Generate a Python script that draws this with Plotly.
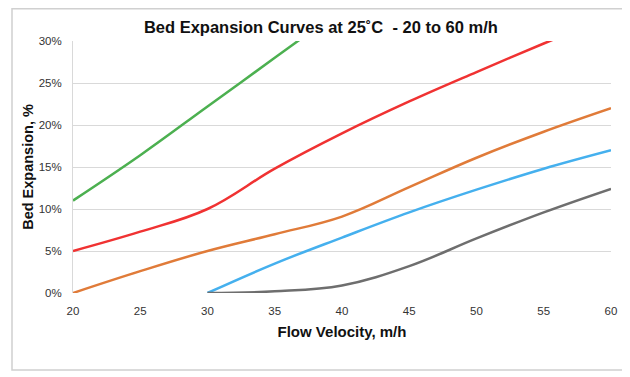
import plotly.graph_objects as go

x_vals = [20, 25, 30, 35, 40, 45, 50, 55, 60]
x_late = [30, 35, 40, 45, 50, 55, 60]

green = [11.0, 16.4, 22.2, 28.0, 33.8]
red = [5.0, 7.3, 10.0, 14.8, 19.0, 22.8, 26.3, 29.7, 33.0]
orange = [0.0, 2.6, 5.0, 7.0, 9.1, 12.6, 16.1, 19.2, 22.0]
blue = [0.0, 3.5, 6.6, 9.6, 12.3, 14.8, 17.0]
gray = [0.0, 0.2, 0.9, 3.2, 6.5, 9.6, 12.4]

y_ticks = [0, 5, 10, 15, 20, 25, 30]
y_tick_labels = ["0%", "5%", "10%", "15%", "20%", "25%", "30%"]
x_ticks = [20, 25, 30, 35, 40, 45, 50, 55, 60]

series = [
    (x_vals[:5], green, "#4CB050"),
    (x_vals, red, "#F03232"),
    (x_vals, orange, "#E07B39"),
    (x_late, blue, "#45B0EE"),
    (x_late, gray, "#6E6E6E"),
]

fig = go.Figure()
for xs, ys, col in series:
    fig.add_trace(go.Scatter(x=xs, y=ys, mode="lines",
                             line=dict(color=col, width=2.5, shape="spline", smoothing=1.1),
                             showlegend=False, cliponaxis=True))

W, H = 622, 369
fig.update_layout(
    width=W, height=H,
    margin=dict(l=65, r=19, t=33, b=84),
    paper_bgcolor="white", plot_bgcolor="white",
    font=dict(family="Liberation Sans, Arial, sans-serif", color="#404040"),
    title=dict(text="<b>Bed Expansion Curves at 25˚C  - 20 to 60 m/h</b>",
               x=0.503, xanchor="center", y=1 - 19 / H, yanchor="middle",
               font=dict(size=16.5, color="#111111")),
    xaxis=dict(range=[20, 60], tickvals=x_ticks, showgrid=False, zeroline=False,
               showline=False, ticks="outside", ticklen=7, tickcolor="rgba(0,0,0,0)",
               tickfont=dict(size=11.5, color="#333333"),
               title=dict(text="<b>Flow Velocity, m/h</b>", font=dict(size=15, color="#111111"), standoff=10)),
    yaxis=dict(range=[0, 30], tickvals=y_ticks, ticktext=y_tick_labels,
               showgrid=True, gridcolor="#D9D9D9", gridwidth=1, zeroline=False,
               showline=True, linecolor="#D9D9D9", linewidth=1,
               ticks="outside", ticklen=8, tickcolor="rgba(0,0,0,0)",
               tickfont=dict(size=11.5, color="#333333"),
               title=dict(text="<b>Bed Expansion, %</b>", font=dict(size=14.5, color="#111111"), standoff=1)),
)

pw = W - 65 - 19
ph = H - 33 - 84
fig.add_shape(type="rect", xref="paper", yref="paper",
              x0=(4 - 65) / pw, x1=(617 - 65) / pw,
              y0=(H - 84 - 362) / ph, y1=(H - 84 - 0.8) / ph,
              line=dict(color="#D0D0D0", width=1.5), fillcolor="rgba(0,0,0,0)", layer="below")

fig.write_html("out.html")
